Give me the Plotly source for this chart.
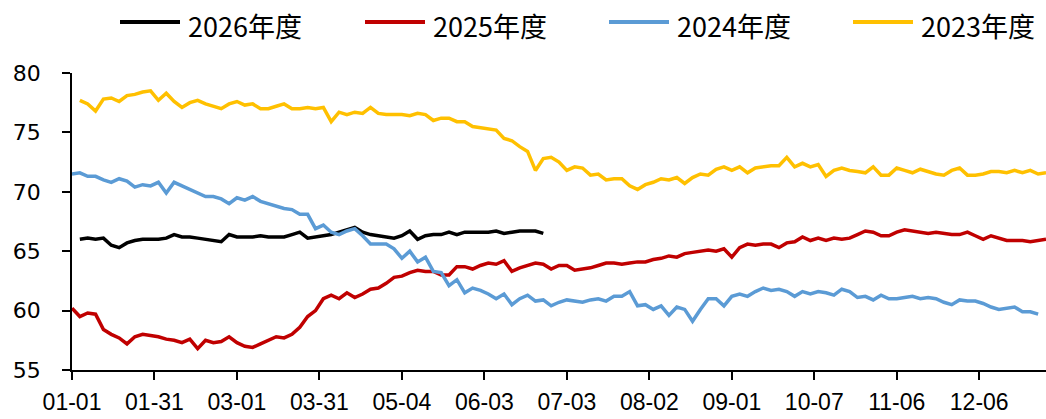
import plotly.graph_objects as go

# ---- data (trading-day index step = 2) ----
tick_labels = ["01-01", "01-31", "03-01", "03-31", "05-04", "06-03",
               "07-03", "08-02", "09-01", "10-07", "11-06", "12-06"]
tick_step = 21          # trading days between labelled ticks
point_step = 2          # sampling step of the series below

series_names = ["2026年度", "2025年度", "2024年度", "2023年度"]

v2026 = [66.0, 66.1, 66.0, 66.1, 65.5, 65.3, 65.7, 65.9, 66.0, 66.0, 66.0, 66.1, 66.4, 66.2, 66.2,
         66.1, 66.0, 65.9, 65.8, 66.4, 66.2, 66.2, 66.2, 66.3, 66.2, 66.2, 66.2, 66.4, 66.6, 66.1,
         66.2, 66.3, 66.4, 66.6, 66.8, 67.0, 66.6, 66.4, 66.3, 66.2, 66.1, 66.3, 66.7, 66.0, 66.3,
         66.4, 66.4, 66.6, 66.4, 66.6, 66.6, 66.6, 66.6, 66.7, 66.5, 66.6, 66.7, 66.7, 66.7, 66.5]
start2026 = 2

v2025 = [60.2, 59.5, 59.8, 59.7, 58.4, 58.0, 57.7, 57.2, 57.8, 58.0, 57.9, 57.8, 57.6, 57.5, 57.3,
         57.6, 56.8, 57.5, 57.3, 57.4, 57.8, 57.3, 57.0, 56.9, 57.2, 57.5, 57.8, 57.7, 58.0, 58.6,
         59.5, 60.0, 61.0, 61.3, 61.0, 61.5, 61.1, 61.4, 61.8, 61.9, 62.3, 62.8, 62.9, 63.2, 63.4,
         63.3, 63.3, 63.0, 63.0, 63.7, 63.7, 63.5, 63.8, 64.0, 63.9, 64.2, 63.3, 63.6, 63.8, 64.0,
         63.9, 63.5, 63.8, 63.8, 63.4, 63.5, 63.6, 63.8, 64.0, 64.0, 63.9, 64.0, 64.1, 64.1, 64.3,
         64.4, 64.6, 64.5, 64.8, 64.9, 65.0, 65.1, 65.0, 65.2, 64.5, 65.3, 65.6, 65.5, 65.6, 65.6,
         65.3, 65.7, 65.8, 66.2, 65.9, 66.1, 65.9, 66.1, 66.0, 66.1, 66.4, 66.7, 66.6, 66.3, 66.3,
         66.6, 66.8, 66.7, 66.6, 66.5, 66.6, 66.5, 66.4, 66.4, 66.6, 66.3, 66.0, 66.3, 66.1, 65.9,
         65.9, 65.9, 65.8, 65.9, 66.0]
start2025 = 0

v2024 = [71.5, 71.6, 71.3, 71.3, 71.0, 70.8, 71.1, 70.9, 70.4, 70.6, 70.5, 70.8, 69.9, 70.8, 70.5,
         70.2, 69.9, 69.6, 69.6, 69.4, 69.0, 69.5, 69.3, 69.6, 69.2, 69.0, 68.8, 68.6, 68.5, 68.1,
         68.1, 66.9, 67.2, 66.6, 66.4, 66.7, 66.9, 66.3, 65.6, 65.6, 65.6, 65.2, 64.4, 65.0, 64.1,
         64.5, 63.3, 63.2, 62.1, 62.6, 61.5, 61.9, 61.7, 61.4, 61.0, 61.4, 60.5, 61.0, 61.3, 60.8,
         60.9, 60.4, 60.7, 60.9, 60.8, 60.7, 60.9, 61.0, 60.8, 61.2, 61.2, 61.6, 60.4, 60.5, 60.1,
         60.4, 59.6, 60.3, 60.1, 59.1, 60.1, 61.0, 61.0, 60.4, 61.2, 61.4, 61.2, 61.6, 61.9, 61.7,
         61.8, 61.6, 61.2, 61.6, 61.4, 61.6, 61.5, 61.3, 61.8, 61.6, 61.1, 61.2, 60.9, 61.3, 61.0,
         61.0, 61.1, 61.2, 61.0, 61.1, 61.0, 60.7, 60.5, 60.9, 60.8, 60.8, 60.6, 60.3, 60.1, 60.2,
         60.3, 59.9, 59.9, 59.7]
start2024 = 0

v2023 = [77.7, 77.4, 76.8, 77.8, 77.9, 77.6, 78.1, 78.2, 78.4, 78.5, 77.7, 78.3, 77.6, 77.1, 77.5,
         77.7, 77.4, 77.2, 77.0, 77.4, 77.6, 77.3, 77.4, 77.0, 77.0, 77.2, 77.4, 77.0, 77.0, 77.1,
         77.0, 77.1, 75.9, 76.7, 76.5, 76.7, 76.6, 77.1, 76.6, 76.5, 76.5, 76.5, 76.4, 76.6, 76.5,
         76.0, 76.2, 76.2, 75.9, 75.9, 75.5, 75.4, 75.3, 75.2, 74.5, 74.3, 73.8, 73.4, 71.8, 72.8,
         72.9, 72.5, 71.8, 72.1, 72.0, 71.4, 71.5, 71.0, 71.1, 71.1, 70.5, 70.2, 70.6, 70.8, 71.1,
         71.0, 71.2, 70.7, 71.2, 71.5, 71.4, 71.9, 72.1, 71.8, 72.1, 71.6, 72.0, 72.1, 72.2, 72.2,
         72.9, 72.1, 72.4, 72.1, 72.3, 71.3, 71.8, 72.0, 71.8, 71.7, 71.6, 72.1, 71.4, 71.4, 72.0,
         71.8, 71.6, 71.9, 71.7, 71.5, 71.4, 71.8, 72.0, 71.4, 71.4, 71.5, 71.7, 71.7, 71.6, 71.8,
         71.6, 71.8, 71.5, 71.6]
start2023 = 2

colors = ["#000000", "#C00000", "#5B9BD5", "#FFC000"]
series_values = [v2026, v2025, v2024, v2023]
series_starts = [start2026, start2025, start2024, start2023]

# ---- layout geometry (pixels) ----
W, H = 1046, 419
L, R, T, B = 72, 0, 73, 49
plot_w = W - L - R
plot_h = H - T - B
x_max = 248


def px_x(p):
    return (p - L) / plot_w


def px_y(p):
    return (H - B - p) / plot_h


fig = go.Figure()
for name, vals, st, col in zip(series_names, series_values, series_starts, colors):
    xs = [st + point_step * i for i in range(len(vals))]
    fig.add_trace(go.Scatter(x=xs, y=vals, mode="lines", name=name,
                             line=dict(color=col, width=3.5), showlegend=False))

# manual legend
leg_line_x = [(120, 180), (365, 425), (609, 669), (853, 913)]
shapes, annotations = [], []
for (x0, x1), name, col in zip(leg_line_x, series_names, colors):
    shapes.append(dict(type="line", xref="paper", yref="paper",
                       x0=px_x(x0), x1=px_x(x1), y0=px_y(22), y1=px_y(22),
                       line=dict(color=col, width=4)))
    annotations.append(dict(xref="paper", yref="paper", x=px_x(x1 + 6), y=px_y(25),
                            text=name, showarrow=False, xanchor="left", yanchor="middle",
                            font=dict(family="Liberation Sans Narrow, Noto Sans CJK SC",
                                      size=27, color="#000000")))

fig.update_layout(
    width=W, height=H,
    margin=dict(l=L, r=R, t=T, b=B, autoexpand=False),
    paper_bgcolor="white", plot_bgcolor="white",
    shapes=shapes, annotations=annotations,
    showlegend=False,
)
fig.update_xaxes(
    range=[0, x_max],
    tickmode="array",
    tickvals=[tick_step * i for i in range(len(tick_labels))],
    ticktext=tick_labels,
    showline=True, linecolor="#000000", linewidth=1.5,
    ticks="outside", ticklen=8, tickwidth=1.5, tickcolor="#000000",
    showgrid=False, zeroline=False, automargin=False,
    tickfont=dict(family="Liberation Sans", size=23, color="#000000"),
    ticklabelstandoff=3,
)
fig.update_yaxes(
    range=[55, 80], dtick=5, tick0=55,
    showline=True, linecolor="#000000", linewidth=1.5,
    ticks="outside", ticklen=8, tickwidth=1.5, tickcolor="#000000",
    showgrid=False, zeroline=False, automargin=False,
    tickfont=dict(family="DejaVu Sans", size=22, color="#000000"),
    ticklabelstandoff=17,
)

fig.write_html("out.html")
